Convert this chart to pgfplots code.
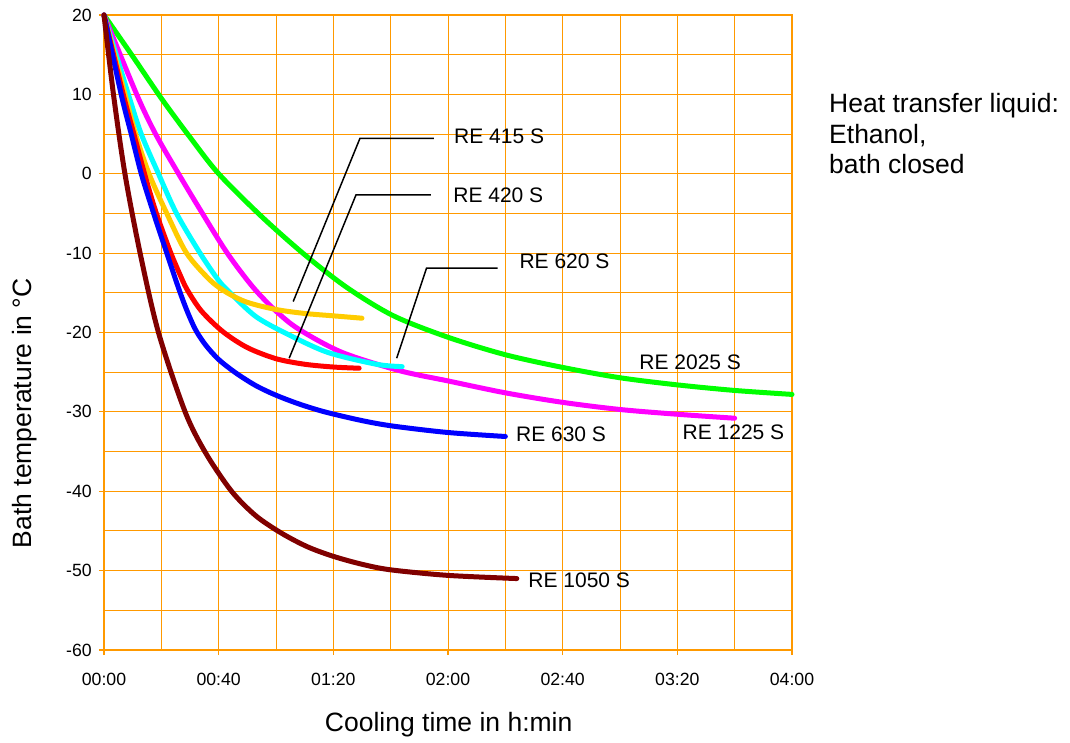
\documentclass[border=0pt]{standalone}
\usepackage{fontspec}
\setmainfont{Liberation Sans}
\usepackage{pgfplots}
\pgfplotsset{compat=1.18}
\definecolor{gridor}{RGB}{255,153,0}
\definecolor{gold}{RGB}{255,204,0}
\definecolor{maroonc}{RGB}{128,0,0}
\definecolor{greenc}{RGB}{0,255,0}
\definecolor{magentac}{RGB}{255,0,255}
\definecolor{cyanc}{RGB}{0,255,255}
\definecolor{redc}{RGB}{255,0,0}
\definecolor{bluec}{RGB}{0,0,255}
\begin{document}
\begin{tikzpicture}
\path[use as bounding box] (-104pt,-92pt) rectangle (966pt,650pt);
\begin{axis}[
  at={(0pt,0pt)}, anchor=south west,
  scale only axis, width=688pt, height=635pt,
  xmin=0, xmax=240, ymin=-60, ymax=20,
  xtick={0,40,...,240},
  xticklabels={00:00,00:40,01:20,02:00,02:40,03:20,04:00},
  minor xtick={20,60,...,220},
  ytick={-60,-50,...,20},
  minor ytick={-55,-45,...,15},
  grid=both,
  major grid style={gridor, line width=1pt},
  minor grid style={gridor, line width=1pt},
  axis line style={gridor, line width=2pt},
  tick style={gridor, line width=1.2pt},
  xtick pos=bottom, ytick pos=left,
  tick align=outside, major tick length=5pt, minor tick length=0pt,
  /pgf/number format/assume math mode=true,
  tick label style={font=\fontsize{17.7}{20}\selectfont, text=black},
  xticklabel style={inner sep=0pt, anchor=north, yshift=-18pt},
  yticklabel style={inner sep=0pt, anchor=east, xshift=-7pt},
  xlabel={Cooling time in h:min},
  ylabel={Bath temperature in °C},
  label style={font=\fontsize{26.5}{30}\selectfont},
  xlabel style={at={(axis description cs:0.501,-0.1276)}, anchor=base},
  ylabel style={at={(axis description cs:-0.106,0.373)}, anchor=base},
  clip=false,
]
% RE 2025 S
\addplot[color=greenc, line width=5pt, smooth, line cap=round] coordinates {(0,20)(10,14.8)(20,9.5)(30,4.6)(40,0)(55,-5.4)(70,-10.2)(85,-14.4)(101,-17.9)(120,-20.6)(140,-22.8)(160,-24.4)(180,-25.7)(200,-26.6)(220,-27.3)(240,-27.8)};
% RE 1225 S
\addplot[color=magentac, line width=5pt, smooth, line cap=round] coordinates {(0,20)(11.4,10)(18,5)(26,0)(34,-4.8)(43,-10)(52,-14.3)(60,-17.3)(68,-19.6)(83,-22.5)(103,-24.8)(120,-26.1)(140,-27.6)(160,-28.8)(180,-29.7)(200,-30.3)(220,-30.8)};
% RE 620 S
\addplot[color=cyanc, line width=5pt, smooth, line cap=round] coordinates {(0,20)(8.5,10)(13,5)(19,0)(25.3,-5)(33.5,-10)(39.9,-13.4)(44,-15)(53,-18)(64,-20.2)(78,-22.5)(95,-24)(104,-24.3)};
% RE 415 S
\addplot[color=gold, line width=5pt, smooth, line cap=round] coordinates {(0,20)(7.3,10)(11,5)(15.7,0)(21.9,-5)(28.8,-10)(37,-13.4)(43,-15)(50,-16.2)(60,-17.1)(70,-17.6)(80,-17.9)(90,-18.2)};
% RE 420 S
\addplot[color=redc, line width=5pt, smooth, line cap=round] coordinates {(0,20)(6.7,10)(10.5,4.9)(14.3,-0.2)(18.1,-4.8)(23,-9.7)(26.5,-12.7)(29,-14.6)(34,-17.3)(41.5,-19.9)(50,-21.9)(60,-23.3)(70,-24)(80,-24.35)(89,-24.5)};
% RE 630 S
\addplot[color=bluec, line width=5pt, smooth, line cap=round] coordinates {(0,20)(6,10)(9.5,5)(13,0)(17.5,-5.2)(22,-10.1)(26,-14.4)(29,-17.3)(32,-19.7)(35.5,-21.6)(40,-23.4)(46,-25.1)(53,-26.7)(60,-27.9)(68,-29)(77,-30)(90,-31.1)(101,-31.8)(120,-32.6)(140,-33.1)};
% RE 1050 S
\addplot[color=maroonc, line width=5pt, smooth, line cap=round] coordinates {(0,20)(3.3,10)(7.3,0)(12.6,-10)(19,-20)(28.3,-30)(35.5,-35.2)(44.5,-40)(53,-43.1)(62,-45.3)(71,-47)(80,-48.2)(90,-49.2)(100,-49.9)(120,-50.6)(144,-51)};
% leader lines
\addplot[black, line width=1.5pt, sharp plot] coordinates {(66.0,-16.1)(89.3,4.47)(115.1,4.47)};
\addplot[black, line width=1.5pt, sharp plot] coordinates {(64.6,-23.24)(87.9,-2.67)(114,-2.67)};
\addplot[black, line width=1.5pt, sharp plot] coordinates {(102.1,-23.24)(112.5,-11.9)(137.3,-11.9)};
% curve labels
\begin{scope}[every node/.style={anchor=west, inner sep=0pt, font=\fontsize{21}{24}\selectfont}]
\node at (axis cs:122.1,4.67) {RE 415 S};
\node at (axis cs:121.8,-2.67) {RE 420 S};
\node at (axis cs:144.9,-11.07) {RE 620 S};
\node at (axis cs:186.7,-23.8) {RE 2025 S};
\node at (axis cs:201.8,-32.56) {RE 1225 S};
\node at (axis cs:143.7,-32.8) {RE 630 S};
\node at (axis cs:148,-51.25) {RE 1050 S};
\end{scope}
\end{axis}
\begin{scope}[every node/.style={anchor=base west, inner sep=0pt, font=\fontsize{26.5}{30}\selectfont}]
\node at (725pt,537.3pt) {Heat transfer liquid:};
\node at (725pt,506.7pt) {Ethanol,};
\node at (725pt,476.7pt) {bath closed};
\end{scope}
\end{tikzpicture}
\end{document}
